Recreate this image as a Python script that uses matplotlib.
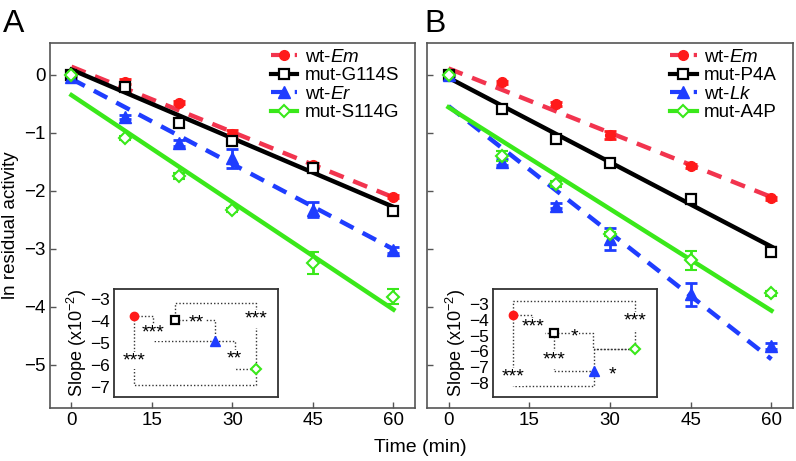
import numpy as np
import matplotlib
matplotlib.use('Agg')
import matplotlib.pyplot as plt
from matplotlib.lines import Line2D

plt.rcParams['font.family'] = ['Liberation Sans', 'DejaVu Sans']
plt.rcParams['mathtext.fontset'] = 'custom'
plt.rcParams['mathtext.rm'] = 'Liberation Sans'
plt.rcParams['mathtext.it'] = 'Liberation Sans:italic'

# time points (min)
time = [0, 10, 20, 30, 45, 60]
xticks = [0, 15, 30, 45, 60]

# Panel A: ln residual activity and error bars
a_labels = ['wt-$\\mathit{Em}$', 'mut-G114S', 'wt-$\\mathit{Er}$', 'mut-S114G']
a_em = [0, -0.12, -0.48, -1.02, -1.56, -2.10]
a_em_err = [0.02, 0.04, 0.03, 0.07, 0.04, 0.03]
a_g114s = [0, -0.21, -0.83, -1.14, -1.60, -2.35]
a_g114s_err = [0.02, 0.05, 0.07, 0.06, 0.05, 0.04]
a_er = [-0.03, -0.73, -1.18, -1.44, -2.33, -3.03]
a_er_err = [0.02, 0.04, 0.05, 0.16, 0.13, 0.05]
a_s114g = [0, -1.09, -1.74, -2.33, -3.25, -3.83]
a_s114g_err = [0.02, 0.04, 0.05, 0.04, 0.19, 0.13]
# fitted lines: intercept and slope (x10^-2, also shown in inset)
a_intercept = [0.14, 0.09, -0.07, -0.35]
a_slope = [-3.76, -3.95, -4.90, -6.17]

# Panel B
b_labels = ['wt-$\\mathit{Em}$', 'mut-P4A', 'wt-$\\mathit{Lk}$', 'mut-A4P']
b_em = [0, -0.13, -0.50, -1.04, -1.57, -2.13]
b_em_err = [0.02, 0.03, 0.03, 0.07, 0.03, 0.03]
b_p4a = [0, -0.59, -1.11, -1.53, -2.15, -3.05]
b_p4a_err = [0.03, 0.03, 0.04, 0.04, 0.04, 0.07]
b_lk = [0, -1.51, -2.26, -2.84, -3.79, -4.68]
b_lk_err = [0.02, 0.05, 0.04, 0.19, 0.20, 0.06]
b_a4p = [0, -1.40, -1.89, -2.75, -3.20, -3.77]
b_a4p_err = [0.02, 0.08, 0.05, 0.04, 0.16, 0.04]
b_intercept = [0.11, -0.05, -0.54, -0.56]
b_slope = [-3.70, -4.86, -7.28, -5.85]

# significance brackets in the insets: (kind, i, j, level, stars, label x, label y)
a_brackets = [('step', 0, 2, 1.47, '***', 1.47, -4.38),
              ('step', 1, 2, 3.0, '**', 2.54, None),
              ('over', 0, 3, -6.9, '***', 1.0, -5.65),
              ('over', 1, 3, -3.17, '***', 4.0, -3.77),
              ('step', 2, 3, 3.5, '**', 3.46, -5.59)]
b_brackets = [('over', 0, 3, -2.8, '***', 4.0, -3.89),
              ('step', 0, 1, 1.46, '***', 1.5, -4.27),
              ('step', 1, 3, 2.96, '*', 2.51, None),
              ('over', 1, 2, None, '***', 2.02, -6.35),
              ('over', 0, 2, -8.2, '***', 1.0, -7.43),
              ('over', 2, 3, None, '*', 3.46, None)]

colors = ['#ff1a1a', 'black', '#1f3dff', '#3ae81a']
line_colors = ['#f2344e', 'black', '#1f3dff', '#3ae81a']
styles = [dict(marker='o', mfc='#ff1a1a', mec='#ff1a1a', ms=7),
          dict(marker='s', mfc='white', mec='black', ms=7, mew=1.6),
          dict(marker='^', mfc='#1f3dff', mec='#1f3dff', ms=8),
          dict(marker='D', mfc='white', mec='#3ae81a', ms=6.5, mew=1.5)]
linestyles = ['dash', 'solid', 'dash', 'solid']


def drawPanel(ax, series, errs, labels, intercept, slope, legend_x):
    '''Main decay plot with fit lines, points and legend'''
    t = np.array([0, 60])
    handles = []
    for k in range(4):
        kw = dict(color=line_colors[k], lw=3.2, zorder=2)
        if linestyles[k] == 'dash':
            kw.update(ls=(0, (3.4, 2.3)), dash_capstyle='butt')
        ax.plot(t, intercept[k] + slope[k] / 100.0 * t, **kw)
        ax.errorbar(time, series[k], yerr=errs[k], ls='none', ecolor=colors[k],
                    elinewidth=2, capsize=4, capthick=2, zorder=3, **styles[k])
        hkw = dict(kw)
        hkw.pop('zorder')
        hkw['lw'] = 3
        handles.append(Line2D([0], [0], **hkw, **styles[k]))
    ax.set_xlim(-4, 64)
    ax.set_ylim(-5.75, 0.55)
    ax.set_xticks(xticks)
    ax.set_yticks([0, -1, -2, -3, -4, -5])
    ax.tick_params(direction='in', length=4, width=1, color='#555555',
                   labelsize=13.5, pad=3)
    for s in ax.spines.values():
        s.set_color('#555555')
        s.set_linewidth(1.2)
    ax.legend(handles, labels, loc='upper left', bbox_to_anchor=(legend_x, 0.985),
              frameon=False, fontsize=13.5, handlelength=1.4, handletextpad=0.4,
              labelspacing=0.08, borderpad=0, borderaxespad=0)


def drawInset(ax, slope, brackets, yticks, ylim):
    '''Inset with slopes and significance brackets'''
    pos = [1, 2, 3, 4]
    for kind, i, j, level, stars, lx, ly in brackets:
        xi, xj = pos[i], pos[j]
        si, sj = slope[i], slope[j]
        if kind == 'step':
            xs, ys = [xi, level, level, xj], [si, si, sj, sj]
        else:
            lev = sj if level is None else level
            xs, ys = [xi, xi, xj, xj], [si, lev, lev, sj]
        ax.plot(xs, ys, color='#333333', lw=1, ls=(0, (1, 1.5)), zorder=1)
        if ly is None:
            ly = si
        ax.text(lx, ly - 0.03 * (ylim[1] - ylim[0]), stars, ha='center', va='center',
                fontsize=14, zorder=2,
                bbox=dict(boxstyle='square,pad=0.02', fc='white', ec='none'))
    for k in range(4):
        st = dict(styles[k])
        st['ms'] = st['ms'] - 1
        ax.plot(pos[k], slope[k], ls='none', zorder=3, **st)
    ax.set_xlim(0.5, 4.55)
    ax.set_ylim(*ylim)
    ax.set_xticks([])
    ax.set_yticks(yticks)
    ax.tick_params(axis='y', length=0, labelsize=12.5, pad=3)
    ax.set_ylabel('Slope (x10$^{-2}$)', fontsize=13, labelpad=1)
    for s in ax.spines.values():
        s.set_color('#333333')
        s.set_linewidth(1.3)


fig = plt.figure(figsize=(7.96, 4.61), dpi=100)
ax_a = fig.add_axes([0.0628, 0.115, 0.4585, 0.7918])
ax_b = fig.add_axes([0.5364, 0.115, 0.4598, 0.7918])

drawPanel(ax_a, [a_em, a_g114s, a_er, a_s114g],
          [a_em_err, a_g114s_err, a_er_err, a_s114g_err],
          a_labels, a_intercept, a_slope, 0.605)
drawPanel(ax_b, [b_em, b_p4a, b_lk, b_a4p],
          [b_em_err, b_p4a_err, b_lk_err, b_a4p_err],
          b_labels, b_intercept, b_slope, 0.665)
ax_b.set_yticklabels([])
ax_a.set_ylabel('ln residual activity', fontsize=13.5, labelpad=4)

in_a = fig.add_axes([0.1432, 0.1388, 0.206, 0.2343])
drawInset(in_a, a_slope, a_brackets, [-3, -4, -5, -6, -7], (-7.45, -2.55))
in_b = fig.add_axes([0.6193, 0.1388, 0.206, 0.2343])
drawInset(in_b, b_slope, b_brackets, [-3, -4, -5, -6, -7, -8], (-8.9, -2.05))

fig.text(0.528, 0.03, 'Time (min)', ha='center', va='center', fontsize=14)
fig.text(0.017, 0.948, 'A', ha='center', va='center', fontsize=23)
fig.text(0.547, 0.948, 'B', ha='center', va='center', fontsize=23)

fig.savefig('out.png', dpi=100)
